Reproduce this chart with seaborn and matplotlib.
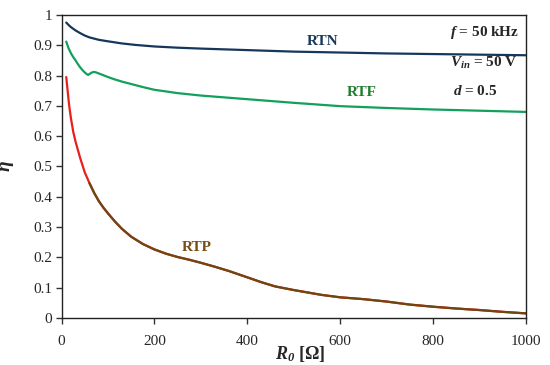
import numpy as np
import pandas as pd
import matplotlib
matplotlib.use("Agg")
import matplotlib.pyplot as plt
import seaborn as sns

# --- dados ---
r_rtn = [10, 15, 20, 30, 40, 50, 60, 80, 100, 130, 160, 200, 250, 300, 400, 500,
         600, 700, 800, 900, 1000]
eta_rtn = [0.975, 0.967, 0.960, 0.949, 0.940, 0.932, 0.926, 0.918, 0.913, 0.906,
           0.901, 0.896, 0.892, 0.889, 0.884, 0.879, 0.876, 0.873, 0.871, 0.869, 0.867]

r_rtf = [10, 15, 20, 25, 30, 35, 40, 45, 50, 54, 57, 61, 65, 70, 75, 85, 100, 115,
         130, 150, 175, 200, 250, 300, 400, 500, 600, 700, 800, 900, 1000]
eta_rtf = [0.912, 0.890, 0.874, 0.861, 0.850, 0.838, 0.827, 0.818, 0.810, 0.805,
           0.802, 0.806, 0.810, 0.812, 0.810, 0.804, 0.795, 0.787, 0.780, 0.772,
           0.762, 0.753, 0.742, 0.734, 0.722, 0.710, 0.699, 0.693, 0.688, 0.684, 0.680]

r_rtp = [10, 13, 16, 20, 25, 30, 35, 40, 50, 60, 70, 80, 90, 100, 115, 130, 150,
         175, 200, 225, 250, 275, 300, 330, 360, 400, 430, 460, 500, 530, 560, 600,
         650, 700, 750, 800, 850, 900, 950, 1000]
eta_rtp = [0.795, 0.750, 0.705, 0.660, 0.615, 0.582, 0.555, 0.528, 0.480, 0.445,
           0.413, 0.386, 0.364, 0.345, 0.318, 0.294, 0.268, 0.244, 0.226, 0.212,
           0.201, 0.192, 0.182, 0.169, 0.155, 0.134, 0.118, 0.104, 0.092, 0.084,
           0.076, 0.068, 0.062, 0.054, 0.044, 0.037, 0.031, 0.026, 0.020, 0.015]

sns.set_style("white")
plt.rcParams['font.family'] = ['Liberation Serif', 'DejaVu Serif']
plt.rcParams['mathtext.fontset'] = 'custom'
plt.rcParams['mathtext.rm'] = 'Liberation Serif'
plt.rcParams['mathtext.it'] = 'Liberation Serif:italic'
plt.rcParams['mathtext.bf'] = 'Liberation Serif:bold'
plt.rcParams['mathtext.bfit'] = 'Liberation Serif:bold:italic'

df_rtn = pd.DataFrame({'R': r_rtn, 'eta': eta_rtn})
df_rtf = pd.DataFrame({'R': r_rtf, 'eta': eta_rtf})
df_rtp = pd.DataFrame({'R': r_rtp, 'eta': eta_rtp})

fig = plt.figure(figsize=(5.5, 3.65), dpi=100)
ax = fig.add_axes([0.112, 0.129, 0.844, 0.830])

sns.lineplot(data=df_rtn, x='R', y='eta', ax=ax, color='#16365c', lw=1.6, estimator=None)
sns.lineplot(data=df_rtf, x='R', y='eta', ax=ax, color='#12a05c', lw=1.6, estimator=None)
sns.lineplot(data=df_rtp, x='R', y='eta', ax=ax, color='#e8201c', lw=1.6, estimator=None)
# o trecho marrom cobre a curva vermelha a partir de ~60 Ω
sns.lineplot(data=df_rtp[df_rtp['R'] >= 60], x='R', y='eta', ax=ax, color='#6e4612',
             lw=1.6, estimator=None)

ax.set_xlim(0, 1000)
ax.set_ylim(0, 1)
ax.set_xticks(np.arange(0, 1001, 200))
ax.set_yticks(np.arange(0, 1.01, 0.1))
ax.yaxis.set_major_formatter(plt.FuncFormatter(lambda v, p: f'{v:g}'))
ax.tick_params(axis='both', direction='out', length=4, width=1, color='#333333',
               labelsize=11, left=True, bottom=True)
ax.tick_params(axis='x', pad=8)
ax.tick_params(axis='y', pad=3)
for s in ax.spines.values():
    s.set_color('#222222')
    s.set_linewidth(1.0)

ax.set_xlabel(r'$\mathbfit{R}_{\mathbfit{0}}$ [$\mathbf{\Omega}$]', fontsize=13,
              fontweight='bold')
ax.xaxis.set_label_coords(0.514, -0.085)
ax.set_ylabel(r'$\mathbfit{\eta}$', fontsize=14)
ax.yaxis.set_label_coords(-0.098, 0.5)

ax.text(563, 0.911, 'RTN', color='#16365c', fontsize=11, fontweight='bold',
        ha='center', va='center')
ax.text(647, 0.743, 'RTF', color='#1f7d2e', fontsize=11, fontweight='bold',
        ha='center', va='center')
ax.text(292, 0.234, 'RTP', color='#7a4c16', fontsize=11, fontweight='bold',
        ha='center', va='center')

ax.text(985, 0.942, r'$\mathbfit{f}$ = 50 kHz', fontsize=11, fontweight='bold',
        ha='right', va='center')
ax.text(983, 0.842, r'$\mathbfit{V}_{\mathbfit{in}}$ = 50 V', fontsize=11,
        fontweight='bold', ha='right', va='center')
ax.text(891, 0.750, r'$\mathbfit{d}$ = 0.5', fontsize=11, fontweight='bold',
        ha='center', va='center')

plt.savefig('out.png', dpi=100)
